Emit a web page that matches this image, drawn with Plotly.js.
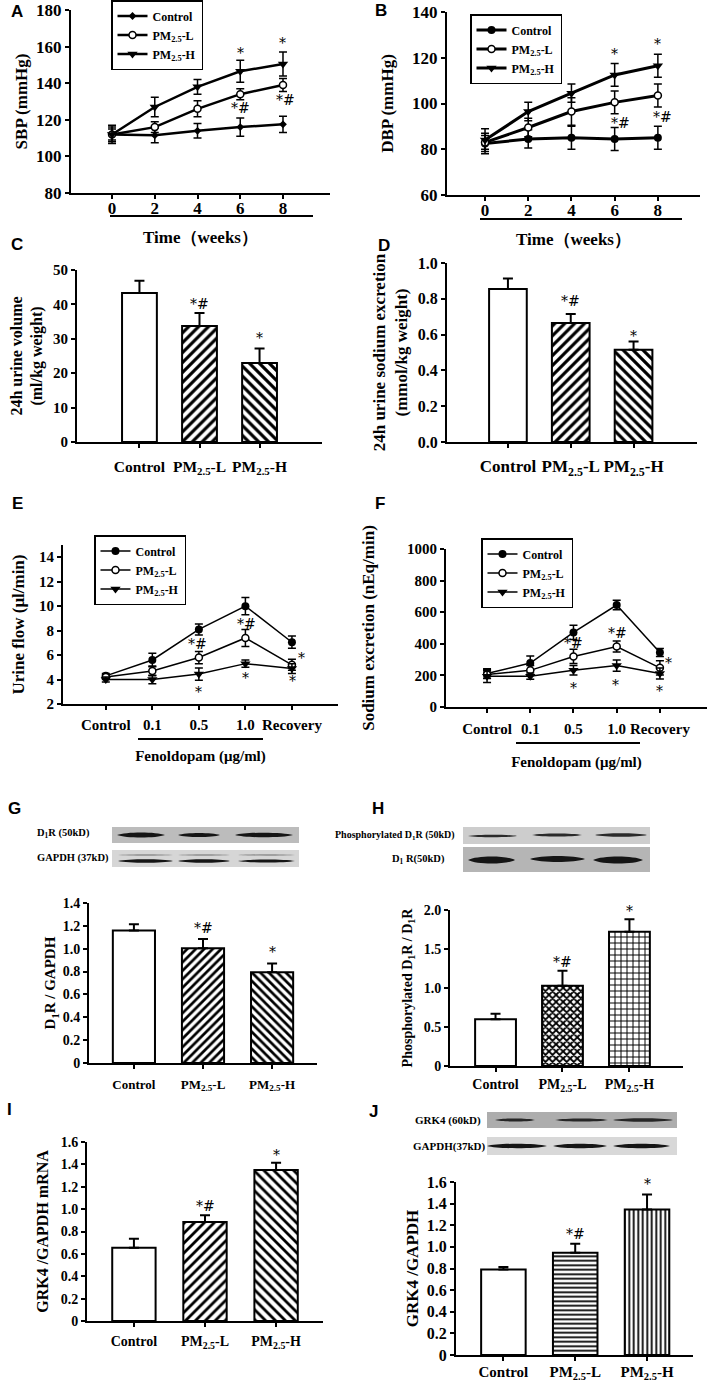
<!DOCTYPE html>
<html><head><meta charset="utf-8">
<script src="https://cdn.plot.ly/plotly-3.0.1.min.js"></script>
<style>html,body{margin:0;padding:0;background:#fff}#chart{width:709px;height:1383px}</style>
</head><body><div id="chart"></div>
<script>
const W = 709, H = 1383;
const SERIF = '"Liberation Serif","Times New Roman",Times,serif';
const SANS = '"Liberation Sans",Arial,Helvetica,sans-serif';

// ---------------- data ----------------
const weeks = [0, 2, 4, 6, 8];
const seriesNames = ['Control', 'PM<sub>2.5</sub>-L', 'PM<sub>2.5</sub>-H'];
const groupPos = [0, 1, 2];
const groupLabels = ['Control', 'PM<sub>2.5</sub>-L', 'PM<sub>2.5</sub>-H'];
const fenoldopamPos = [0, 1, 2, 3, 4];
const fenoldopamLabels = ['Control', '0.1', '0.5', '1.0', 'Recovery'];

// A: SBP (mmHg)
const sbpControl = [112, 111.5, 114, 116, 117.5];
const sbpControlSE = [4, 4, 4, 5, 4.5];
const sbpLow = [112, 116, 126, 134, 139];
const sbpLowSE = [3, 3, 4.4, 3, 3.6];
const sbpHigh = [112, 127, 138, 146.5, 150.5];
const sbpHighSE = [5, 5.3, 4, 6, 6.5];

// B: DBP (mmHg)
const dbpControl = [82.5, 84.5, 85, 84.5, 85];
const dbpControlSE = [4.5, 4, 5, 5, 5];
const dbpLow = [83, 89.5, 96.5, 100.5, 103.5];
const dbpLowSE = [3, 4, 6, 5, 5];
const dbpHigh = [84, 96.5, 104.5, 112.5, 116.5];
const dbpHighSE = [5, 4, 4, 5, 5];

// C: 24h urine volume
const urineVolume = [43.3, 33.7, 23.0];
const urineVolumeSE = [3.6, 3.8, 4.2];
// D: 24h urine sodium excretion
const urineSodium = [0.855, 0.665, 0.515];
const urineSodiumSE = [0.058, 0.05, 0.047];

// E: urine flow (ul/min)
const flowControl = [4.3, 5.6, 8.1, 10.0, 7.05];
const flowControlSE = [0.2, 0.55, 0.45, 0.7, 0.5];
const flowLow = [4.2, 4.7, 5.8, 7.4, 5.2];
const flowLowSE = [0.2, 0.4, 0.5, 0.7, 0.45];
const flowHigh = [4.0, 4.0, 4.45, 5.3, 4.9];
const flowHighSE = [0.2, 0.35, 0.5, 0.3, 0.4];

// F: sodium excretion (nEq/min)
const naControl = [212, 278, 472, 645, 345];
const naControlSE = [30, 45, 45, 30, 25];
const naLow = [205, 232, 320, 383, 248];
const naLowSE = [25, 30, 45, 35, 45];
const naHigh = [195, 195, 232, 262, 212];
const naHighSE = [40, 20, 30, 35, 35];

// G-J
const d1rGapdh = [1.16, 1.005, 0.795];
const d1rGapdhSE = [0.055, 0.08, 0.075];
const phosD1r = [0.6, 1.03, 1.72];
const phosD1rSE = [0.07, 0.19, 0.16];
const grk4mRNA = [0.655, 0.885, 1.35];
const grk4mRNASE = [0.08, 0.06, 0.065];
const grk4Protein = [0.79, 0.945, 1.345];
const grk4ProteinSE = [0.025, 0.085, 0.14];

// significance marks: [axis, x, y, text]
const sigMarks = [
  [1, 6, 156.4, '*'], [1, 8, 161.8, '*'], [1, 6, 126.4, '*#'], [1, 8.1, 130.9, '*#'],
  [2, 6, 121.8, '*'], [2, 8, 125.9, '*'], [2, 6.25, 91.3, '*#'], [2, 8.2, 93.9, '*#'],
  [3, 1, 40.1, '*#'], [3, 2, 30.1, '*'],
  [4, 1, 0.785, '*#'], [4, 2, 0.59, '*'],
  [5, 1.98, 6.9, '*#'], [5, 3.03, 8.5, '*#'], [5, 4.2, 5.8, '*'], [5, 2, 3.0, '*'], [5, 3, 4.1, '*'], [5, 4.02, 3.85, '*'],
  [6, 2, 402, '*#'], [6, 3.03, 466, '*#'], [6, 4.2, 276, '*'], [6, 2, 121, '*'], [6, 2.97, 142, '*'], [6, 4, 100, '*'],
  [7, 1, 1.18, '*#'], [7, 2, 0.97, '*'],
  [8, 1, 1.33, '*#'], [8, 2, 1.99, '*'],
  [9, 1, 1.03, '*#'], [9, 2, 1.48, '*'],
  [10, 1, 1.12, '*#'], [10, 2, 1.58, '*']
];

// ---------------- helpers ----------------
const fx = p => p / W;
const fy = p => 1 - p / H;
const sfx = n => (n === 1 ? '' : String(n));
const font = (size, weight) => ({family: SERIF, size: size, color: 'black', weight: weight || 'bold'});

function xAxis(n, x0, x1, range, o) {
  return Object.assign({
    domain: [fx(x0), fx(x1)], range: range, anchor: 'y' + sfx(n),
    showgrid: false, zeroline: false, showline: true, linecolor: 'black', linewidth: 2,
    ticks: 'outside', ticklen: 4, tickwidth: 2, tickcolor: 'black', fixedrange: true,
    tickangle: 0, tickfont: font(15)
  }, o);
}
function yAxis(n, top, bottom, range, o) {
  return Object.assign({
    domain: [fy(bottom), fy(top)], range: range, anchor: 'x' + sfx(n),
    showgrid: false, zeroline: false, showline: true, linecolor: 'black', linewidth: 2,
    ticks: 'outside', ticklen: 4, tickwidth: 2, tickcolor: 'black', fixedrange: true,
    tickfont: font(15)
  }, o);
}
function lineTrace(n, x, y, se, name, marker, legend, lw) {
  return {
    type: 'scatter', mode: 'lines+markers', x: x, y: y, name: name,
    xaxis: 'x' + sfx(n), yaxis: 'y' + sfx(n), legend: legend, showlegend: true,
    line: {color: 'black', width: lw}, marker: marker, cliponaxis: false,
    error_y: {type: 'data', array: se, visible: true, color: 'black', thickness: 1.5, width: 4},
    hoverinfo: 'skip'
  };
}
function barTrace(n, y, se, shapes, size, solidity, width) {
  return {
    type: 'bar', x: groupPos, y: y, width: width, xaxis: 'x' + sfx(n), yaxis: 'y' + sfx(n),
    showlegend: false, hoverinfo: 'skip',
    marker: {color: 'white', line: {color: 'black', width: 2},
      pattern: {shape: shapes, fgcolor: 'black', bgcolor: 'white', size: size, solidity: solidity}},
    error_y: {type: 'data', symmetric: false, array: se, arrayminus: [0, 0, 0], visible: true,
      color: 'black', thickness: 2, width: 5}
  };
}
const mk = {
  ctrlSmall: {symbol: 'diamond', size: 6, color: 'black'},
  ctrl: {symbol: 'circle', size: 8, color: 'black'},
  low: {symbol: 'circle', size: 7, color: 'white', line: {color: 'black', width: 1.5}},
  high: {symbol: 'triangle-down', size: 9, color: 'black'}
};

// ---------------- traces ----------------
const data = [
  lineTrace(1, weeks, sbpControl, sbpControlSE, seriesNames[0], mk.ctrlSmall, 'legend', 2.5),
  lineTrace(1, weeks, sbpLow, sbpLowSE, seriesNames[1], mk.low, 'legend', 2.5),
  lineTrace(1, weeks, sbpHigh, sbpHighSE, seriesNames[2], mk.high, 'legend', 2.5),
  lineTrace(2, weeks, dbpControl, dbpControlSE, seriesNames[0], mk.ctrl, 'legend2', 3),
  lineTrace(2, weeks, dbpLow, dbpLowSE, seriesNames[1], mk.low, 'legend2', 3),
  lineTrace(2, weeks, dbpHigh, dbpHighSE, seriesNames[2], mk.high, 'legend2', 3),
  barTrace(3, urineVolume, urineVolumeSE, ['', '/', '\\'], 7, 0.45, 0.58),
  barTrace(4, urineSodium, urineSodiumSE, ['', '/', '\\'], 7, 0.45, 0.6),
  lineTrace(5, fenoldopamPos, flowControl, flowControlSE, seriesNames[0], mk.ctrl, 'legend3', 1.5),
  lineTrace(5, fenoldopamPos, flowLow, flowLowSE, seriesNames[1], mk.low, 'legend3', 1.5),
  lineTrace(5, fenoldopamPos, flowHigh, flowHighSE, seriesNames[2], mk.high, 'legend3', 1.5),
  lineTrace(6, fenoldopamPos, naControl, naControlSE, seriesNames[0], mk.ctrl, 'legend4', 1.5),
  lineTrace(6, fenoldopamPos, naLow, naLowSE, seriesNames[1], mk.low, 'legend4', 1.5),
  lineTrace(6, fenoldopamPos, naHigh, naHighSE, seriesNames[2], mk.high, 'legend4', 1.5),
  barTrace(7, d1rGapdh, d1rGapdhSE, ['', '/', '\\'], 6, 0.45, 0.61),
  barTrace(8, phosD1r, phosD1rSE, ['', 'x', '+'], [6, 5, 6], [0.3, 0.6, 0.3], 0.61),
  barTrace(9, grk4mRNA, grk4mRNASE, ['', '/', '\\'], 7, 0.4, 0.61),
  barTrace(10, grk4Protein, grk4ProteinSE, ['', '-', '|'], 4.5, 0.4, 0.62)
];

// ---------------- layout ----------------
const groupTicks = {tickmode: 'array', tickvals: groupPos, ticktext: groupLabels};
const fenTicks = {tickmode: 'array', tickvals: fenoldopamPos, ticktext: fenoldopamLabels};
const layout = {
  width: W, height: H, margin: {l: 0, r: 0, t: 0, b: 0},
  paper_bgcolor: 'white', plot_bgcolor: 'rgba(0,0,0,0)', hovermode: false,
  font: {family: SERIF, color: 'black', weight: 'bold'},
  bargap: 0,
  // A
  xaxis: xAxis(1, 71, 330, [-1.92, 10.2], {tickmode: 'array', tickvals: weeks, tickfont: font(17),
    ticklabelstandoff: -5, title: {text: 'Time（weeks）', font: font(17), standoff: 14}}),
  yaxis: yAxis(1, 10, 193, [80, 180], {dtick: 20, tickfont: font(17),
    title: {text: 'SBP (mmHg)', font: font(17), standoff: 4}}),
  // B
  xaxis2: xAxis(2, 447, 700, [-1.76, 9.95], {tickmode: 'array', tickvals: weeks, tickfont: font(17),
    ticklabelstandoff: -5, title: {text: 'Time（weeks）', font: font(17), standoff: 14}}),
  yaxis2: yAxis(2, 12, 195, [60, 140], {dtick: 20, tickfont: font(17),
    title: {text: 'DBP (mmHg)', font: font(17), standoff: 14}}),
  // C
  xaxis3: xAxis(3, 77, 322, [-1.04, 3.04], Object.assign({tickfont: font(15.5), ticklabelstandoff: 5}, groupTicks)),
  yaxis3: yAxis(3, 270, 442, [0, 50], {dtick: 10, tickfont: font(15),
    title: {text: '24h urine volume<br>(ml/kg weight)', font: font(16), standoff: 6}}),
  // D
  xaxis4: xAxis(4, 447, 697, [-0.97, 3.01], Object.assign({tickfont: font(17), ticklabelstandoff: 4}, groupTicks)),
  yaxis4: yAxis(4, 263, 442, [0, 1.0], {dtick: 0.2, tickformat: '.1f', tickfont: font(16),
    title: {text: '24h urine sodium excretion<br>(mmol/kg weight)', font: font(17), standoff: 6}}),
  // E
  xaxis5: xAxis(5, 63, 338, [-0.92, 4.99], Object.assign({tickfont: font(15), ticklabelstandoff: 2,
    title: {text: 'Fenoldopam (μg/ml)', font: font(15), standoff: 18}}, fenTicks)),
  yaxis5: yAxis(5, 545, 704, [2, 15], {tickmode: 'array', tickvals: [2, 4, 6, 8, 10, 12, 14], tickfont: font(15),
    title: {text: 'Urine flow (μl/min)', font: font(17), standoff: 10}}),
  // F
  xaxis6: xAxis(6, 446, 707, [-0.95, 5.09], Object.assign({tickfont: font(15), ticklabelstandoff: 3,
    title: {text: 'Fenoldopam (μg/ml)', font: font(15), standoff: 20}}, fenTicks)),
  yaxis6: yAxis(6, 549, 707, [0, 1000], {dtick: 200, tickfont: font(15),
    title: {text: 'Sodium excretion (nEq/min)', font: font(17), standoff: 28}}),
  // G
  xaxis7: xAxis(7, 89, 317, [-0.65, 2.65], Object.assign({tickfont: font(13), ticklabelstandoff: 4}, groupTicks)),
  yaxis7: yAxis(7, 903, 1063, [0, 1.4], {tickmode: 'array', tickvals: [0, 0.2, 0.4, 0.6, 0.8, 1.0, 1.2, 1.4],
    ticktext: ['0', '0.2', '0.4', '0.6', '0.8', '1.0', '1.2', '1.4'], tickfont: font(14),
    title: {text: 'D<sub>1</sub>R / GAPDH', font: font(15), standoff: 3}}),
  // H
  xaxis8: xAxis(8, 450, 683, [-0.68, 2.8], Object.assign({tickfont: font(14), ticklabelstandoff: 0}, groupTicks)),
  yaxis8: yAxis(8, 910, 1066, [0, 2.0], {tickmode: 'array', tickvals: [0, 0.5, 1.0, 1.5, 2.0],
    ticktext: ['0', '0.5', '1.0', '1.5', '2.0'], tickfont: font(14),
    title: {text: 'Phosphorylated D<sub>1</sub>R / D<sub>1</sub>R', font: font(14), standoff: 8}}),
  // I
  xaxis9: xAxis(9, 87, 323, [-0.66, 2.66], Object.assign({tickfont: font(14), ticklabelstandoff: 2}, groupTicks)),
  yaxis9: yAxis(9, 1142, 1321, [0, 1.6], {tickmode: 'array', tickvals: [0, 0.2, 0.4, 0.6, 0.8, 1.0, 1.2, 1.4, 1.6],
    ticktext: ['0', '0.2', '0.4', '0.6', '0.8', '1.0', '1.2', '1.4', '1.6'], tickfont: font(14),
    title: {text: 'GRK4 /GAPDH mRNA', font: font(16), standoff: 8}}),
  // J
  xaxis10: xAxis(10, 456, 693, [-0.66, 2.64], Object.assign({tickfont: font(15), ticklabelstandoff: -2}, groupTicks)),
  yaxis10: yAxis(10, 1182, 1355, [0, 1.6], {tickmode: 'array', tickvals: [0, 0.2, 0.4, 0.6, 0.8, 1.0, 1.2, 1.4, 1.6],
    ticktext: ['0', '0.2', '0.4', '0.6', '0.8', '1.0', '1.2', '1.4', '1.6'], tickfont: font(16),
    title: {text: 'GRK4 /GAPDH', font: font(17), standoff: 4}}),
  annotations: [],
  shapes: []
};

function legendAt(x, y) {
  return {x: fx(x), y: fy(y), xanchor: 'left', yanchor: 'top', bgcolor: 'white', bordercolor: 'black',
    borderwidth: 1.5, font: font(12), tracegroupgap: 0, itemwidth: 30};
}
layout.legend = legendAt(111, 0);
layout.legend2 = legendAt(470, 14);
layout.legend3 = legendAt(94, 535);
layout.legend4 = legendAt(481, 538);

// panel letters
[['A', 17, 12], ['B', 381, 10], ['C', 17, 244], ['D', 384, 246], ['E', 17, 503], ['F', 380, 504],
 ['G', 15, 808], ['H', 378, 808], ['I', 9, 1109], ['J', 374, 1111]].forEach(p => {
  layout.annotations.push({xref: 'paper', yref: 'paper', x: fx(p[1]), y: fy(p[2]), text: p[0],
    showarrow: false, xanchor: 'center', yanchor: 'middle',
    font: {family: SANS, size: 17, color: 'black', weight: 'bold'}});
});

// significance marks
sigMarks.forEach(s => {
  layout.annotations.push({xref: 'x' + sfx(s[0]), yref: 'y' + sfx(s[0]), x: s[1], y: s[2], text: s[3],
    showarrow: false, xanchor: 'center', yanchor: 'middle',
    font: {family: '"DejaVu Serif","Liberation Serif",serif', size: 14, color: '#000000', weight: 'normal'}});
});

// underlines below the x tick labels (A, B, E, F)
[[110, 313, 216], [480, 682, 219], [138, 263, 739], [516, 640, 743]].forEach(l => {
  layout.shapes.push({type: 'line', xref: 'paper', yref: 'paper', x0: fx(l[0]), x1: fx(l[1]),
    y0: fy(l[2]), y1: fy(l[2]), line: {color: 'black', width: 2}});
});

// western blot strips (decorative)
function blotBox(x0, x1, y0, y1, color) {
  layout.shapes.push({type: 'rect', xref: 'paper', yref: 'paper', x0: fx(x0), x1: fx(x1),
    y0: fy(y1), y1: fy(y0), fillcolor: color, line: {width: 0}, layer: 'below'});
}
function band(x0, x1, yc, t, color) {
  const w = x1 - x0, a = x0 + w * 0.18, b = x1 - w * 0.18;
  const p = `M${fx(x0)},${fy(yc)} C${fx(a)},${fy(yc - t * 0.67)} ${fx(b)},${fy(yc - t * 0.67)} ${fx(x1)},${fy(yc)} ` +
    `C${fx(b)},${fy(yc + t * 0.67)} ${fx(a)},${fy(yc + t * 0.67)} ${fx(x0)},${fy(yc)} Z`;
  layout.shapes.push({type: 'path', xref: 'paper', yref: 'paper', path: p, fillcolor: color || '#151515',
    line: {width: 0}});
}
function blotLabel(x, y, text, anchor, size) {
  layout.annotations.push({xref: 'paper', yref: 'paper', x: fx(x), y: fy(y), text: text, showarrow: false,
    xanchor: anchor, yanchor: 'middle', font: font(size || 10.5)});
}
// G
blotBox(112, 299, 827, 843, '#bcbcbc');
band(117, 165, 835, 5); band(178, 220, 835, 4); band(235, 293, 835, 4.5);
blotBox(112, 299, 850, 867, '#d6d6d6');
band(118, 173, 855, 2, '#a0a0a0'); band(178, 230, 855, 2, '#a0a0a0'); band(238, 295, 855, 2, '#a0a0a0');
band(118, 173, 861, 3.5); band(178, 230, 861, 3.5); band(238, 295, 861, 3);
blotLabel(35, 834, 'D<sub>1</sub>R (50kD)', 'left');
blotLabel(35, 858, 'GAPDH (37kD)', 'left');
// H
blotBox(463, 650, 827, 844, '#cdcdcd');
band(468, 517, 836, 2.5, '#2a2a2a'); band(532, 582, 835, 3, '#2a2a2a'); band(595, 647, 835, 3.5, '#2a2a2a');
blotBox(463, 650, 847, 872, '#b5b5b5');
band(468, 515, 860, 7); band(530, 585, 859, 6); band(593, 643, 860, 7);
blotLabel(457, 835, 'Phosphorylated D<sub>1</sub>R (50kD)', 'right', 10);
blotLabel(447, 859, 'D<sub>1</sub> R(50kD)', 'right', 10.5);
// J
blotBox(487, 677, 1112, 1128, '#adadad');
band(495, 535, 1120, 3, '#262626'); band(555, 608, 1120, 3, '#262626'); band(613, 673, 1120, 3.5, '#262626');
blotBox(487, 677, 1137, 1155, '#d8d8d8');
band(487, 547, 1146, 4.5); band(553, 607, 1146, 4.5); band(613, 670, 1146, 4.5);
blotLabel(483, 1120, 'GRK4 (60kD)', 'right', 11);
blotLabel(487, 1146, 'GAPDH(37kD)', 'right', 11);

Plotly.newPlot('chart', data, layout, {staticPlot: true, displayModeBar: false});
</script>
</body></html>
